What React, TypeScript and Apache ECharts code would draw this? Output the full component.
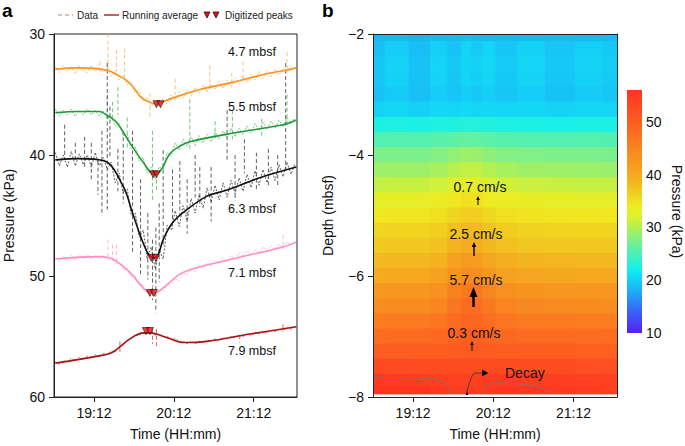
import React, { useEffect, useRef } from "react";
import * as echarts from "echarts";

const FONT = "'Liberation Sans', Arial, Helvetica, sans-serif";

// ---------- axis ticks ----------
const timeTicks = [1152, 1212, 1272]; // 19:12, 20:12, 21:12 (minutes of day)
const colorbarTicks = [10, 20, 30, 40, 50];

// ---------- panel a: raw data (minutes of day, kPa) ----------
const dataTimes = [
  1123, 1126, 1129, 1132, 1135, 1138, 1141, 1144, 1147, 1150,
  1153, 1156, 1159, 1162, 1165, 1168, 1171, 1174, 1177, 1180,
  1183, 1186, 1189, 1192, 1195, 1198, 1201, 1204, 1207, 1210,
  1213, 1216, 1219, 1222, 1225, 1228, 1231, 1234, 1237, 1240,
  1243, 1246, 1249, 1252, 1255, 1258, 1261, 1264, 1267, 1270,
  1273, 1276, 1279, 1282, 1285, 1288, 1291, 1294, 1297, 1300,
  1303,
];
const data47 = [
  32.7, 33.2, 32.6, 33.1, 32.7, 33.3, 32.6, 33.0, 33.2, 32.6,
  33.1, 32.7, 33.2, 32.8, 33.5, 33.0, 33.8, 33.4, 34.2, 34.0,
  34.9, 34.6, 35.6, 35.2, 36.0, 35.5, 36.0, 35.3, 35.8, 35.0,
  35.5, 34.8, 35.3, 34.6, 35.1, 34.4, 34.9, 34.2, 34.8, 34.1,
  34.6, 33.9, 34.5, 33.8, 34.3, 33.6, 34.1, 33.5, 34.0, 33.3,
  33.8, 33.1, 33.7, 33.0, 33.5, 32.9, 33.4, 32.8, 33.2, 32.6,
  33.0,
];
const data55 = [
  36.2, 36.8, 36.3, 36.7, 36.2, 36.8, 36.3, 36.7, 36.2, 36.7,
  36.3, 36.8, 36.4, 37.0, 36.8, 37.6, 37.4, 38.4, 38.3, 39.5,
  39.3, 40.5, 40.2, 41.5, 41.0, 42.0, 41.0, 41.2, 39.8, 40.1,
  39.0, 39.6, 38.7, 39.3, 38.5, 39.2, 38.4, 39.0, 38.3, 38.9,
  38.1, 38.7, 38.0, 38.6, 37.8, 38.5, 37.8, 38.3, 37.6, 38.2,
  37.4, 38.0, 37.3, 37.9, 37.2, 37.8, 37.1, 37.7, 36.9, 37.4,
  36.9,
];
const data63 = [
  39.8, 40.9, 40.0, 41.0, 39.7, 40.9, 39.9, 40.8, 40.0, 41.0,
  39.8, 40.9, 40.2, 41.2, 40.6, 42.3, 41.5, 43.2, 42.8, 45.0,
  44.8, 46.8, 46.2, 48.6, 47.6, 49.4, 47.8, 48.6, 45.8, 46.2,
  44.6, 45.9, 44.2, 45.4, 43.6, 44.8, 43.3, 44.4, 42.7, 43.9,
  42.5, 43.7, 42.3, 43.5, 42.1, 43.2, 41.9, 43.0, 41.6, 42.7,
  41.3, 42.5, 41.2, 42.3, 41.0, 42.1, 40.8, 41.8, 40.6, 41.6,
  40.7,
];
const data71 = [
  48.5, 48.8, 48.4, 48.8, 48.3, 48.7, 48.2, 48.6, 48.2, 48.6,
  48.3, 48.6, 48.3, 48.7, 48.5, 49.0, 48.9, 49.5, 49.4, 50.1,
  50.0, 50.7, 50.7, 51.4, 51.2, 51.6, 51.1, 51.3, 50.7, 50.8,
  50.2, 50.4, 49.7, 49.9, 49.4, 49.7, 49.1, 49.4, 48.9, 49.2,
  48.7, 49.0, 48.5, 48.8, 48.3, 48.6, 48.1, 48.4, 47.9, 48.2,
  47.8, 48.1, 47.6, 47.9, 47.5, 47.8, 47.4, 47.6, 47.2, 47.4,
  47.1,
];
const data79 = [
  57.1, 57.3, 57.0, 57.1, 56.8, 57.0, 56.7, 56.9, 56.6, 56.8,
  56.5, 56.7, 56.4, 56.5, 56.2, 56.3, 55.8, 55.7, 55.3, 55.2,
  54.9, 54.9, 54.7, 54.8, 54.6, 54.9, 54.8, 55.0, 55.0, 55.2,
  55.2, 55.4, 55.4, 55.6, 55.4, 55.6, 55.4, 55.5, 55.3, 55.4,
  55.2, 55.3, 55.1, 55.2, 55.0, 55.1, 54.9, 55.0, 54.8, 54.9,
  54.7, 54.8, 54.6, 54.7, 54.5, 54.6, 54.4, 54.5, 54.3, 54.4,
  54.2,
];

// ---------- panel a: spikes in the raw data [minute, top kPa, bottom kPa] ----------
const spikes47 = [
  [1156.5, 32.3, 33.4], [1162.5, 30.0, 33.0], [1169, 31.3, 33.1], [1175, 31.2, 33.8],
  [1194, 34.9, 36.9], [1213, 33.7, 35.0], [1239, 32.6, 34.6], [1255.5, 33.2, 34.4],
  [1264, 32.3, 33.9], [1297, 31.5, 33.2],
];
const spikes55 = [
  [1162, 35.0, 37.1], [1166, 35.6, 37.0], [1170, 34.4, 36.7], [1177, 36.9, 39.6],
  [1196, 38.0, 43.7], [1199, 41.5, 42.9], [1224, 35.4, 39.6], [1243, 37.2, 38.8],
  [1256, 36.3, 38.7], [1278, 37.0, 38.6], [1297, 35.0, 37.5],
];
const spikes63 = [
  [1130, 37.5, 40.4], [1138, 39.0, 40.4], [1145, 38.5, 41.0], [1150, 39.0, 42.0],
  [1155, 40.5, 43.3], [1158, 38.0, 45.0], [1162, 32.4, 44.5], [1164, 36.0, 40.2],
  [1170, 39.5, 43.0], [1174, 38.0, 44.0], [1181, 38.0, 48.0], [1187, 42.0, 50.0],
  [1192.5, 44.8, 50.3], [1196, 47.0, 52.0], [1198.5, 46.0, 53.0], [1201, 44.0, 50.5],
  [1204, 39.6, 47.4], [1211, 41.2, 46.1], [1216.5, 40.5, 45.0], [1222, 42.0, 46.5],
  [1228, 40.0, 43.5], [1231.5, 41.0, 44.3], [1240, 41.0, 45.5], [1252, 36.3, 40.4],
  [1258, 40.0, 43.8], [1265, 38.7, 41.5], [1274, 39.8, 43.0], [1283, 39.5, 42.5],
  [1290, 40.0, 42.6], [1296, 32.4, 41.2],
];
const spikes71 = [
  [1162.5, 47.0, 48.5], [1166, 47.4, 48.7], [1169, 47.4, 48.9], [1196, 50.7, 51.9],
  [1294, 46.6, 47.8],
];
const spikes79 = [
  [1171.5, 55.4, 56.5], [1196, 54.4, 55.6], [1199, 54.4, 55.8], [1261.5, 54.9, 55.5],
  [1294, 54.0, 54.6],
];

// ---------- panel a: running averages [minute, kPa] ----------
const avg47 = [
  [1123, 32.9], [1140, 32.8], [1162, 33.0], [1170, 33.4], [1177, 33.9], [1183, 34.6],
  [1187, 35.2], [1193, 35.6], [1199, 35.8], [1206, 35.5], [1211, 35.3], [1222, 34.9],
  [1231, 34.6], [1256, 34.0], [1281, 33.3], [1296, 33.0], [1304, 32.8],
];
const avg55 = [
  [1123, 36.5], [1140, 36.4], [1156, 36.4], [1163, 36.8], [1169, 37.3], [1179, 39.0],
  [1189, 40.6], [1197, 41.6], [1202, 41.3], [1209, 39.9], [1216, 39.3], [1224, 38.9],
  [1256, 38.2], [1294, 37.5], [1304, 37.1],
];
const avg63 = [
  [1123, 40.4], [1140, 40.3], [1160, 40.5], [1174, 42.6], [1181, 44.8], [1188, 47.0],
  [1193, 48.2], [1197, 48.5], [1200, 48.3], [1204, 47.0], [1211, 45.6], [1222, 44.5],
  [1237, 43.4], [1252, 42.9], [1276, 41.9], [1304, 41.0],
];
const avg71 = [
  [1123, 48.6], [1156, 48.4], [1166, 48.6], [1179, 49.7], [1190, 51.1], [1196, 51.4],
  [1200, 51.3], [1205, 50.9], [1219, 49.7], [1256, 48.6], [1294, 47.6], [1304, 47.2],
];
const avg79 = [
  [1123, 57.2], [1156, 56.6], [1166, 56.3], [1179, 55.2], [1189, 54.7], [1194, 54.7],
  [1207, 55.1], [1219, 55.5], [1237, 55.4], [1269, 54.8], [1304, 54.2],
];

// ---------- panel a: digitized peaks ----------
const peaks47 = [[1199, 35.8], [1202, 35.8]];
const peaks55 = [[1196.5, 41.6], [1199, 41.6]];
const peaks63 = [[1195, 48.5], [1198.5, 48.5]];
const peaks71 = [[1194, 51.4], [1197, 51.4]];
const peaks79 = [[1191, 54.55], [1194, 54.55]];

const depthLabels = ["4.7 mbsf", "5.5 mbsf", "6.3 mbsf", "7.1 mbsf", "7.9 mbsf"];

// ---------- panel b: interpolated pressure field (kPa) ----------
const heatTimes = [1122, 1140, 1158, 1172, 1184, 1192, 1200, 1208, 1220, 1240, 1262, 1284, 1304];
const heatDepths = [
  -2.0, -2.25, -2.5, -2.75, -3.0, -3.25, -3.5, -3.75, -4.0, -4.25, -4.5, -4.75, -5.0,
  -5.25, -5.5, -5.75, -6.0, -6.25, -6.5, -6.75, -7.0, -7.25, -7.5, -7.75, -7.9,
];
const pressureGrid = [
  [18.4, 18.6, 18.3, 18.7, 18.5, 18.8, 18.6, 18.4, 18.7, 18.5, 18.6, 18.4, 18.6],
  [19.0, 19.8, 18.9, 20.0, 19.2, 20.2, 19.6, 20.3, 19.4, 20.1, 19.3, 20.0, 19.5],
  [19.4, 20.2, 19.1, 20.3, 19.5, 20.4, 20.0, 20.5, 19.6, 20.3, 19.5, 20.2, 19.8],
  [19.3, 20.1, 19.2, 20.2, 19.4, 20.3, 19.9, 20.4, 19.5, 20.2, 19.4, 20.1, 19.7],
  [19.2, 19.6, 19.0, 19.8, 19.3, 19.9, 19.5, 20.0, 19.3, 19.8, 19.2, 19.7, 19.4],
  [20.2, 20.4, 20.1, 20.5, 20.3, 20.6, 20.4, 20.5, 20.3, 20.5, 20.2, 20.4, 20.3],
  [22.6, 22.7, 22.5, 22.8, 22.9, 23.1, 23.0, 22.9, 22.7, 22.6, 22.5, 22.6, 22.5],
  [25.3, 25.4, 25.3, 25.6, 25.9, 26.2, 26.1, 25.8, 25.5, 25.4, 25.3, 25.4, 25.2],
  [27.4, 27.5, 27.4, 27.8, 28.4, 28.9, 28.8, 28.3, 27.8, 27.6, 27.5, 27.4, 27.3],
  [28.9, 29.0, 29.0, 29.4, 30.2, 30.8, 30.7, 30.0, 29.4, 29.1, 29.0, 28.9, 28.8],
  [30.8, 31.0, 31.0, 31.4, 32.3, 33.0, 32.9, 32.1, 31.5, 31.2, 31.0, 30.9, 30.8],
  [32.8, 33.0, 33.0, 33.4, 34.4, 35.0, 34.9, 34.2, 33.5, 33.2, 33.0, 32.9, 32.8],
  [34.3, 34.5, 34.5, 34.9, 35.9, 36.5, 36.4, 35.7, 35.0, 34.7, 34.5, 34.4, 34.3],
  [35.8, 36.0, 36.0, 36.5, 37.6, 38.3, 38.2, 37.4, 36.6, 36.2, 36.0, 35.9, 35.9],
  [36.8, 37.0, 37.0, 37.5, 38.8, 39.5, 39.4, 38.5, 37.7, 37.2, 37.1, 37.0, 37.0],
  [38.3, 38.5, 38.5, 39.1, 40.8, 41.8, 41.7, 40.5, 39.4, 38.8, 38.6, 38.5, 38.5],
  [39.8, 40.0, 40.0, 40.8, 42.8, 44.0, 43.9, 42.4, 41.0, 40.4, 40.1, 40.0, 40.0],
  [42.3, 42.5, 42.5, 43.3, 45.3, 46.5, 46.4, 44.9, 43.5, 42.9, 42.6, 42.5, 42.4],
  [43.8, 44.0, 44.0, 44.8, 46.8, 48.0, 47.9, 46.4, 45.0, 44.4, 44.1, 44.0, 43.9],
  [45.8, 46.0, 46.0, 46.6, 48.0, 49.0, 48.9, 47.8, 46.7, 46.2, 46.0, 45.9, 45.8],
  [47.8, 48.0, 48.0, 48.4, 49.4, 50.0, 49.9, 49.2, 48.5, 48.2, 48.0, 47.9, 47.8],
  [50.2, 50.2, 50.1, 50.2, 50.4, 50.6, 50.5, 50.4, 50.2, 50.1, 50.0, 49.9, 49.8],
  [53.0, 52.8, 52.6, 52.5, 52.4, 52.4, 52.5, 52.6, 52.7, 52.6, 52.4, 52.2, 52.0],
  [55.4, 55.2, 55.0, 54.6, 54.2, 54.2, 54.4, 54.8, 55.0, 54.9, 54.6, 54.3, 54.1],
  [56.8, 56.5, 56.2, 55.6, 54.9, 54.8, 55.0, 55.5, 55.8, 55.6, 55.2, 54.8, 54.5],
];
const contourLeft = [[1122, -7.67], [1145, -7.68], [1167, -7.7], [1175, -7.76], [1178, -7.83], [1181, -7.93]];
const contourRight = [[1204, -7.93], [1206, -7.84], [1212, -7.77], [1234, -7.79], [1247, -7.85], [1255, -7.93]];

const velocityLabels = ["0.7 cm/s", "2.5 cm/s", "5.7 cm/s", "0.3 cm/s"];

// ---------- styles ----------
const pressurePalette = [
  "#5a1ff5", "#4a40f7", "#3a62f8", "#2a88f8", "#1cb0f6", "#14d0f6", "#10f0f0", "#38f0c8",
  "#60f0a4", "#88f080", "#b4f050", "#dcf030", "#f0ec20", "#f0d420", "#f2bc20", "#f5a820",
  "#f79a20", "#f88c20", "#fa7c20", "#fb6c20", "#fc5e20", "#fd5020", "#fe4220", "#ff3420",
];
const dataColors = ["#ffae60", "#4cbf5e", "#3a3a3a", "#ffa6cf", "#c83c3c"];
const avgColors = ["#f7941d", "#1f9a3a", "#111111", "#ff8ec3", "#a31616"];

const T_MIN = 1122;
const T_MAX = 1304.5;

function fmtTime(v: number) {
  const h = Math.floor(v / 60);
  const m = Math.round(v - h * 60);
  return `${h}:${String(m).padStart(2, "0")}`;
}
function fmtDepth(v: number) {
  return v < 0 ? "\u2212" + Math.abs(v) : String(v);
}

function buildOption() {
  const axisLine = { show: true, onZero: false, lineStyle: { color: "#222", width: 1 } };
  const labelStyle = { fontSize: 14, color: "#111", fontFamily: FONT };
  const nameStyle = { fontSize: 14, color: "#111", fontFamily: FONT };

  const rawSets = [data47, data55, data63, data71, data79];
  const spikeSets = [spikes47, spikes55, spikes63, spikes71, spikes79];
  const avgSets = [avg47, avg55, avg63, avg71, avg79];
  const peakSets = [peaks47, peaks55, peaks63, peaks71, peaks79];

  const series: any[] = [];
  rawSets.forEach((vals, k) => {
    series.push({
      type: "line",
      xAxisIndex: 0,
      yAxisIndex: 0,
      data: dataTimes.map((t, i) => [t, vals[i]]),
      symbol: "none",
      silent: true,
      z: 2,
      lineStyle: { color: dataColors[k], width: 0.9, type: [2, 1.5], opacity: 0.9 },
    });
  });
  spikeSets.forEach((pts, k) => {
    series.push({
      type: "custom",
      xAxisIndex: 0,
      yAxisIndex: 0,
      data: pts,
      encode: { x: 0, y: [1, 2] },
      silent: true,
      clip: true,
      z: 2,
      renderItem: (params: any, api: any) => {
        const a = api.coord([api.value(0), api.value(1)]);
        const b = api.coord([api.value(0), api.value(2)]);
        return {
          type: "line",
          shape: { x1: a[0], y1: a[1], x2: b[0], y2: b[1] },
          style: { stroke: dataColors[k], lineWidth: 0.9, lineDash: [4, 2.5], opacity: 0.9 },
        };
      },
    });
  });
  avgSets.forEach((pts, k) => {
    series.push({
      type: "line",
      xAxisIndex: 0,
      yAxisIndex: 0,
      data: pts,
      symbol: "none",
      smooth: 0.35,
      silent: true,
      z: 3,
      lineStyle: { color: avgColors[k], width: 1.6 },
    });
  });
  peakSets.forEach((pts) => {
    series.push({
      type: "scatter",
      xAxisIndex: 0,
      yAxisIndex: 0,
      data: pts,
      symbol: "triangle",
      symbolRotate: 180,
      symbolSize: 7,
      silent: true,
      z: 4,
      itemStyle: { color: "#f01010", borderColor: "#000", borderWidth: 0.7 },
    });
  });

  // heat field cells
  const cells: number[][] = [];
  heatDepths.forEach((d, i) => {
    const dTop = i === 0 ? -2 : (heatDepths[i - 1] + d) / 2;
    const dBot = i === heatDepths.length - 1 ? -7.95 : (heatDepths[i + 1] + d) / 2;
    heatTimes.forEach((t, j) => {
      const tL = j === 0 ? T_MIN : (heatTimes[j - 1] + t) / 2;
      const tR = j === heatTimes.length - 1 ? T_MAX : (heatTimes[j + 1] + t) / 2;
      cells.push([tL, tR, dTop, dBot, pressureGrid[i][j]]);
    });
  });
  const heatIndex = series.length;
  series.push({
    type: "custom",
    xAxisIndex: 1,
    yAxisIndex: 1,
    data: cells,
    encode: { x: [0, 1], y: [2, 3] },
    clip: true,
    silent: true,
    z: 1,
    renderItem: (params: any, api: any) => {
      const p0 = api.coord([api.value(0), api.value(2)]);
      const p1 = api.coord([api.value(1), api.value(3)]);
      const x = Math.min(p0[0], p1[0]);
      const y = Math.min(p0[1], p1[1]);
      return {
        type: "rect",
        shape: {
          x: x - 0.4,
          y: y - 0.4,
          width: Math.abs(p1[0] - p0[0]) + 0.8,
          height: Math.abs(p1[1] - p0[1]) + 0.8,
        },
        style: { fill: api.visual("color"), stroke: null },
      };
    },
  });
  [contourLeft, contourRight].forEach((pts) => {
    series.push({
      type: "line",
      xAxisIndex: 1,
      yAxisIndex: 1,
      data: pts,
      symbol: "none",
      smooth: 0.4,
      silent: true,
      z: 3,
      lineStyle: { color: "#777", width: 0.8 },
    });
  });

  const depthLabelY = [52, 107, 209, 273, 351];
  const velX = [480, 476, 476, 474];
  const velY = [187, 234, 280, 333];
  const arrows = [
    { x: 478, tip: 196, head: 200, end: 205, hw: 1.8, w: 1 },
    { x: 474, tip: 242, head: 247, end: 256, hw: 2.3, w: 1.4 },
    { x: 473.5, tip: 287, head: 297, end: 307, hw: 4, w: 2.4 },
    { x: 472, tip: 341, head: 345, end: 351, hw: 1.8, w: 1 },
  ];

  const graphic: any[] = [
    // panel letters
    { type: "text", left: 2, top: 1, z: 50, style: { text: "a", font: `bold 19px ${FONT}`, fill: "#000" } },
    { type: "text", left: 322, top: 1, z: 50, style: { text: "b", font: `bold 19px ${FONT}`, fill: "#000" } },
    // legend
    { type: "line", z: 50, shape: { x1: 58, y1: 15, x2: 73, y2: 15 }, style: { stroke: "#e07474", lineWidth: 1.2, lineDash: [4, 3] } },
    { type: "text", x: 77, y: 15, z: 50, style: { text: "Data", font: `10px ${FONT}`, fill: "#222", verticalAlign: "middle" } },
    { type: "line", z: 50, shape: { x1: 104, y1: 15, x2: 119, y2: 15 }, style: { stroke: "#b01818", lineWidth: 1.4 } },
    { type: "text", x: 122, y: 15, z: 50, style: { text: "Running average", font: `10px ${FONT}`, fill: "#222", verticalAlign: "middle" } },
    { type: "polygon", z: 50, shape: { points: [[204, 12], [210, 12], [207, 18]] }, style: { fill: "#f01010", stroke: "#000", lineWidth: 0.7 } },
    { type: "polygon", z: 50, shape: { points: [[213, 12], [219, 12], [216, 18]] }, style: { fill: "#f01010", stroke: "#000", lineWidth: 0.7 } },
    { type: "text", x: 225, y: 15, z: 50, style: { text: "Digitized peaks", font: `10px ${FONT}`, fill: "#222", verticalAlign: "middle" } },
    // colorbar
    {
      type: "rect",
      z: 50,
      shape: { x: 627, y: 90, width: 15, height: 243 },
      style: {
        fill: new echarts.graphic.LinearGradient(
          0, 1, 0, 0,
          pressurePalette.map((c, i) => ({ offset: i / (pressurePalette.length - 1), color: c }))
        ),
      },
    },
    // decay annotation
    { type: "polyline", z: 50, shape: { points: [[467, 391], [471, 378], [474, 373], [482, 373]] }, style: { stroke: "#333", lineWidth: 0.8, fill: null } },
    { type: "polygon", z: 50, shape: { points: [[482, 369.5], [488.5, 373], [482, 376.5]] }, style: { fill: "#111" } },
    { type: "polygon", z: 50, shape: { points: [[465.6, 395], [468.4, 395], [467, 390.5]] }, style: { fill: "#111" } },
    { type: "text", x: 505, y: 373, z: 50, style: { text: "Decay", font: `14px ${FONT}`, fill: "#111", verticalAlign: "middle" } },
  ];
  depthLabels.forEach((lab, k) => {
    graphic.push({ type: "text", x: 228, y: depthLabelY[k], z: 50, style: { text: lab, font: `12.5px ${FONT}`, fill: "#111", verticalAlign: "middle" } });
  });
  velocityLabels.forEach((lab, k) => {
    graphic.push({ type: "text", x: velX[k], y: velY[k], z: 50, style: { text: lab, font: `14px ${FONT}`, fill: "#111", align: "center", verticalAlign: "middle" } });
    const a = arrows[k];
    graphic.push({ type: "line", z: 50, shape: { x1: a.x, y1: a.head - 0.5, x2: a.x, y2: a.end }, style: { stroke: "#000", lineWidth: a.w } });
    graphic.push({ type: "polygon", z: 50, shape: { points: [[a.x - a.hw, a.head], [a.x + a.hw, a.head], [a.x, a.tip]] }, style: { fill: "#000" } });
  });

  return {
    animation: false,
    backgroundColor: "#fff",
    textStyle: { fontFamily: FONT },
    grid: [
      { left: 54, top: 34, width: 243, height: 364, show: true, borderColor: "#222", borderWidth: 1, backgroundColor: "transparent" },
      { left: 373, top: 34, width: 244, height: 364 },
      { left: 627, top: 90, width: 15, height: 243 },
    ],
    xAxis: [
      {
        gridIndex: 0, type: "value", min: T_MIN, max: T_MAX, z: 10,
        axisLine,
        axisTick: { show: true, length: 5, customValues: timeTicks, lineStyle: { color: "#222" } },
        axisLabel: { ...labelStyle, customValues: timeTicks, formatter: fmtTime, margin: 9 },
        splitLine: { show: false },
        name: "Time (HH:mm)", nameLocation: "middle", nameGap: 30, nameTextStyle: nameStyle,
      },
      {
        gridIndex: 1, type: "value", min: T_MIN, max: T_MAX, z: 10,
        axisLine,
        axisTick: { show: true, length: 5, customValues: timeTicks, lineStyle: { color: "#222" } },
        axisLabel: { ...labelStyle, customValues: timeTicks, formatter: fmtTime, margin: 9 },
        splitLine: { show: false },
        name: "Time (HH:mm)", nameLocation: "middle", nameGap: 30, nameTextStyle: nameStyle,
      },
      {
        gridIndex: 1, type: "value", position: "top", min: T_MIN, max: T_MAX, z: 10,
        axisLine, axisTick: { show: false }, axisLabel: { show: false }, splitLine: { show: false },
      },
      { gridIndex: 2, type: "value", min: 0, max: 1, show: false },
    ],
    yAxis: [
      {
        gridIndex: 0, type: "value", inverse: true, min: 30, max: 60, interval: 10, z: 10,
        axisLine,
        axisTick: { show: true, length: 5, lineStyle: { color: "#222" } },
        axisLabel: { ...labelStyle, margin: 9 },
        splitLine: { show: false },
        name: "Pressure (kPa)", nameLocation: "middle", nameGap: 38, nameTextStyle: nameStyle,
      },
      {
        gridIndex: 1, type: "value", min: -8, max: -2, interval: 2, z: 10,
        axisLine,
        axisTick: { show: true, length: 5, lineStyle: { color: "#222" } },
        axisLabel: { ...labelStyle, margin: 9, formatter: fmtDepth },
        splitLine: { show: false },
        name: "Depth (mbsf)", nameLocation: "middle", nameGap: 38, nameTextStyle: nameStyle,
      },
      {
        gridIndex: 1, type: "value", position: "right", min: -8, max: -2, z: 10,
        axisLine, axisTick: { show: false }, axisLabel: { show: false }, splitLine: { show: false },
      },
      {
        gridIndex: 2, type: "value", position: "right", min: 10, max: 56,
        axisLine: { show: false }, axisTick: { show: false, customValues: colorbarTicks },
        axisLabel: { ...labelStyle, margin: 6, customValues: colorbarTicks },
        splitLine: { show: false },
        name: "Pressure (kPa)", nameLocation: "middle", nameRotate: -90, nameGap: 30, nameTextStyle: nameStyle,
      },
    ],
    visualMap: [
      {
        type: "continuous", show: false, min: 10, max: 56, dimension: 4, seriesIndex: heatIndex,
        inRange: { color: pressurePalette },
      },
    ],
    graphic,
    series,
  };
}

export default function App() {
  const ref = useRef<HTMLDivElement>(null);
  useEffect(() => {
    if (!ref.current) return;
    const chart = echarts.init(ref.current, undefined, { renderer: "svg" });
    chart.setOption(buildOption() as any);
    return () => chart.dispose();
  }, []);
  return (
    <div
      ref={ref}
      style={{ position: "fixed", left: 0, top: 0, width: 685, height: 446, background: "#fff" }}
    />
  );
}
